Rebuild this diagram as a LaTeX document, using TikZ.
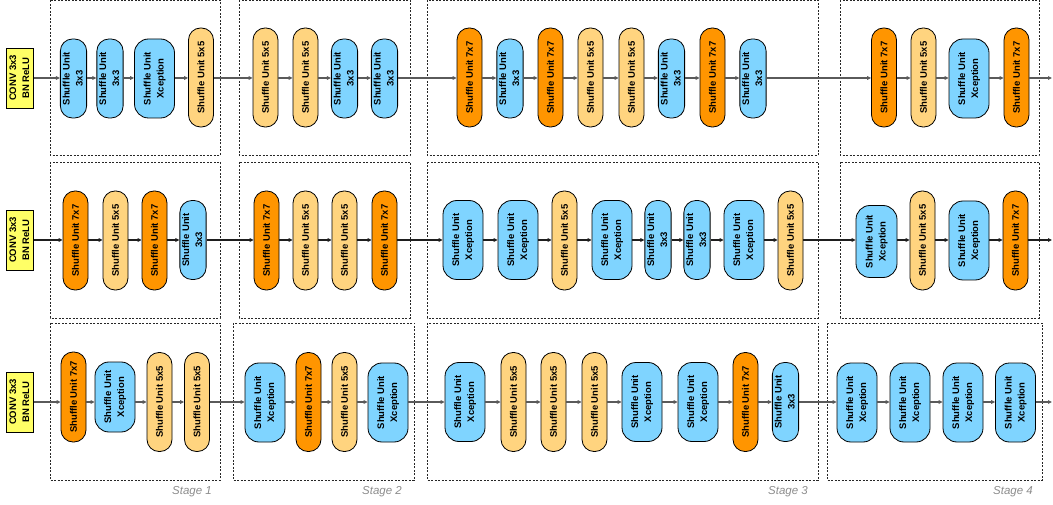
\documentclass[tikz,border=0pt]{standalone}
\usepackage{fontspec}
\setmainfont{Liberation Sans}
\usetikzlibrary{arrows.meta}
\definecolor{cblue}{HTML}{7FD4FF}
\definecolor{corange}{HTML}{FF9500}
\definecolor{clight}{HTML}{FFD47F}
\definecolor{cyellow}{HTML}{FFFF66}
\definecolor{cline}{HTML}{5A5A5A}
\definecolor{cdark}{HTML}{1E1E1E}
\definecolor{cstage}{HTML}{8C8C8C}
\newcommand\nodefont{\bfseries\fontsize{9.5}{10.5}\selectfont}
\newcommand\one[1]{\rotatebox{90}{#1}}
\newcommand\two[2]{\rotatebox{90}{\begin{tabular}{@{}c@{}}#1\\#2\end{tabular}}}
\def\arraystretch{1.25}
\tikzset{
  su/.style={draw=black, line width=0.8pt, inner sep=0pt, font=\nodefont, text=black, rectangle},
  pseven/.style={su, fill=corange, rounded corners=12pt, minimum width=25pt, minimum height=99pt},
  pfive/.style={su, fill=clight, rounded corners=12pt, minimum width=25pt, minimum height=99pt},
  pthree/.style={su, fill=cblue, rounded corners=12pt, minimum width=25pt, minimum height=79pt},
  pxc/.style={su, fill=cblue, rounded corners=14pt, minimum width=40pt, minimum height=79pt},
  conv/.style={su, fill=cyellow, minimum width=24pt, minimum height=60pt},
  stagebox/.style={draw=black!85, line width=0.7pt, dash pattern=on 2pt off 1.5pt},
  stagelbl/.style={font=\itshape\fontsize{11.5}{13}\selectfont, text=cstage, inner sep=0pt},
  arr/.style={draw=cline, line width=1.1pt, -{Triangle[length=4pt,width=3.6pt]}},
}
\begin{document}
\begin{tikzpicture}[x=1pt,y=-1pt]
\useasboundingbox (0,0) rectangle (1053,505);
% stage boxes
\draw[stagebox] (50,0.5) rectangle (220,155.5);
\draw[stagebox] (239,0.5) rectangle (410,155.5);
\draw[stagebox] (427,0.5) rectangle (818,155.5);
\draw[stagebox] (840,0.5) rectangle (1039,155.5);
\draw[stagebox] (50,162) rectangle (220,318);
\draw[stagebox] (239,162) rectangle (410,318);
\draw[stagebox] (427,162) rectangle (818,318);
\draw[stagebox] (840,162) rectangle (1039,318);
\draw[stagebox] (50,323) rectangle (220,480);
\draw[stagebox] (233,323) rectangle (414,480);
\draw[stagebox] (427,323) rectangle (818,480);
\draw[stagebox] (827,323) rectangle (1042,480);
% row coordinates
\coordinate (R1) at (0,78);
\coordinate (R2) at (0,240);
\coordinate (R3) at (0,402);
\coordinate (E1) at (1052,78);
\coordinate (E2) at (1052,240);
\coordinate (E3) at (1052,402);
% ---------- row 1 ----------
\node[conv] (c1) at (20,78) {\two{CONV 3x3}{BN ReLU}};
\node[pthree] (r1a) at (73.5,78.5) {\two{Shuffle Unit}{3x3}};
\node[pthree] (r1b) at (110,78.5) {\two{Shuffle Unit}{3x3}};
\node[pxc] (r1c) at (154.5,78.5) {\two{Shuffle Unit}{Xception}};
\node[pfive] (r1d) at (201,77.5) {\one{Shuffle Unit 5x5}};
\node[pfive] (r1e) at (265.5,77.5) {\one{Shuffle Unit 5x5}};
\node[pfive] (r1f) at (305.5,77.5) {\one{Shuffle Unit 5x5}};
\node[pthree] (r1g) at (344.5,78.5) {\two{Shuffle Unit}{3x3}};
\node[pthree] (r1h) at (384.5,78.5) {\two{Shuffle Unit}{3x3}};
\node[pseven] (r1i) at (469.5,77.5) {\one{Shuffle Unit 7x7}};
\node[pthree] (r1j) at (510,78.5) {\two{Shuffle Unit}{3x3}};
\node[pseven] (r1k) at (550.5,77.5) {\one{Shuffle Unit 7x7}};
\node[pfive] (r1l) at (590.5,77.5) {\one{Shuffle Unit 5x5}};
\node[pfive] (r1m) at (631.5,77.5) {\one{Shuffle Unit 5x5}};
\node[pthree] (r1n) at (671.5,78.5) {\two{Shuffle Unit}{3x3}};
\node[pseven] (r1o) at (712.5,77.5) {\one{Shuffle Unit 7x7}};
\node[pthree] (r1p) at (753,78.5) {\two{Shuffle Unit}{3x3}};
\node[pseven] (r1q) at (884,77.5) {\one{Shuffle Unit 7x7}};
\node[pfive] (r1r) at (923.5,77.5) {\one{Shuffle Unit 5x5}};
\node[pxc] (r1s) at (969,78.5) {\two{Shuffle Unit}{Xception}};
\node[pseven] (r1t) at (1016.5,77.5) {\one{Shuffle Unit 7x7}};
\foreach \a/\b in {c1/r1a,r1a/r1b,r1b/r1c,r1c/r1d,r1d/r1e,r1e/r1f,r1f/r1g,r1g/r1h,r1h/r1i,r1i/r1j,r1j/r1k,r1k/r1l,r1l/r1m,r1m/r1n,r1n/r1o,r1o/r1p,r1p/r1q,r1q/r1r,r1r/r1s,r1s/r1t}
  \draw[arr] (\a.east |- R1) -- (\b.west |- R1);
\draw[arr] (r1t.east |- R1) -- (E1);
% ---------- row 2 ----------
\node[conv] (c2) at (20,240) {\two{CONV 3x3}{BN ReLU}};
\node[pseven] (r2a) at (75.5,240.5) {\one{Shuffle Unit 7x7}};
\node[pfive] (r2b) at (115.5,240.5) {\one{Shuffle Unit 5x5}};
\node[pseven] (r2c) at (154.5,240.5) {\one{Shuffle Unit 7x7}};
\node[pthree] (r2d) at (193,240) {\two{Shuffle Unit}{3x3}};
\node[pseven] (r2e) at (266.5,240.5) {\one{Shuffle Unit 7x7}};
\node[pfive] (r2f) at (305.5,240.5) {\one{Shuffle Unit 5x5}};
\node[pfive] (r2g) at (344.5,240.5) {\one{Shuffle Unit 5x5}};
\node[pseven] (r2h) at (384.5,240.5) {\one{Shuffle Unit 7x7}};
\node[pxc] (r2i) at (463,240) {\two{Shuffle Unit}{Xception}};
\node[pxc] (r2j) at (518,240) {\two{Shuffle Unit}{Xception}};
\node[pfive] (r2k) at (564.5,240.5) {\one{Shuffle Unit 5x5}};
\node[pxc] (r2l) at (612,240) {\two{Shuffle Unit}{Xception}};
\node[pthree] (r2m) at (658,240) {\two{Shuffle Unit}{3x3}};
\node[pthree] (r2n) at (697,240) {\two{Shuffle Unit}{3x3}};
\node[pxc] (r2o) at (744,240) {\two{Shuffle Unit}{Xception}};
\node[pfive] (r2p) at (790.5,240.5) {\one{Shuffle Unit 5x5}};
\node[pxc, minimum width=41pt, minimum height=72pt] (r2q) at (876.5,241.5) {\two{Shuffle Unit}{Xception}};
\node[pfive] (r2r) at (922.5,240.5) {\one{Shuffle Unit 5x5}};
\node[pxc] (r2s) at (969,240.5) {\two{Shuffle Unit}{Xception}};
\node[pseven] (r2t) at (1015.5,240.5) {\one{Shuffle Unit 7x7}};
\foreach \a/\b in {c2/r2a,r2a/r2b,r2b/r2c,r2c/r2d,r2d/r2e,r2e/r2f,r2f/r2g,r2g/r2h,r2h/r2i,r2i/r2j,r2j/r2k,r2k/r2l,r2l/r2m,r2m/r2n,r2n/r2o,r2o/r2p,r2p/r2q,r2q/r2r,r2r/r2s,r2s/r2t}
  \draw[arr, draw=cdark] (\a.east |- R2) -- (\b.west |- R2);
\draw[arr, draw=cdark] (r2t.east |- R2) -- (E2);
% ---------- row 3 ----------
\node[conv] (c3) at (20,402) {\two{CONV 3x3}{BN ReLU}};
\node[pseven, minimum height=90pt] (r3a) at (73.5,397) {\one{Shuffle Unit 7x7}};
\node[pxc, minimum height=70pt] (r3b) at (115,397) {\two{Shuffle Unit}{Xception}};
\node[pfive] (r3c) at (159.5,402) {\one{Shuffle Unit 5x5}};
\node[pfive] (r3d) at (197,402) {\one{Shuffle Unit 5x5}};
\node[pxc] (r3e) at (265,402.5) {\two{Shuffle Unit}{Xception}};
\node[pseven] (r3f) at (308.5,402) {\one{Shuffle Unit 7x7}};
\node[pfive] (r3g) at (344.5,402) {\one{Shuffle Unit 5x5}};
\node[pxc] (r3h) at (388,402.5) {\two{Shuffle Unit}{Xception}};
\node[pxc] (r3i) at (465,402) {\two{Shuffle Unit}{Xception}};
\node[pfive] (r3j) at (513.5,402) {\one{Shuffle Unit 5x5}};
\node[pfive] (r3k) at (553.5,402) {\one{Shuffle Unit 5x5}};
\node[pfive] (r3l) at (594.5,402) {\one{Shuffle Unit 5x5}};
\node[pxc] (r3m) at (642,402) {\two{Shuffle Unit}{Xception}};
\node[pxc] (r3n) at (698,402) {\two{Shuffle Unit}{Xception}};
\node[pseven] (r3o) at (745.5,402) {\one{Shuffle Unit 7x7}};
\node[pthree] (r3p) at (785.5,402) {\two{Shuffle Unit}{3x3}};
\node[pxc] (r3q) at (857,402.5) {\two{Shuffle Unit}{Xception}};
\node[pxc] (r3r) at (910,402.5) {\two{Shuffle Unit}{Xception}};
\node[pxc] (r3s) at (963,402.5) {\two{Shuffle Unit}{Xception}};
\node[pxc] (r3t) at (1015.5,402.5) {\two{Shuffle Unit}{Xception}};
\foreach \a/\b in {c3/r3a,r3a/r3b,r3b/r3c,r3c/r3d,r3d/r3e,r3e/r3f,r3f/r3g,r3g/r3h,r3h/r3i,r3i/r3j,r3j/r3k,r3k/r3l,r3l/r3m,r3m/r3n,r3n/r3o,r3o/r3p,r3p/r3q,r3q/r3r,r3r/r3s,r3s/r3t}
  \draw[arr] (\a.east |- R3) -- (\b.west |- R3);
\draw[arr] (r3t.east |- R3) -- (E3);
% stage labels
\node[stagelbl] (s1) at (192,492) {Stage 1};
\node[stagelbl] (s2) at (382,492) {Stage 2};
\node[stagelbl] (s3) at (788,492) {Stage 3};
\node[stagelbl] (s4) at (1013,492) {Stage 4};
\end{tikzpicture}
\end{document}
